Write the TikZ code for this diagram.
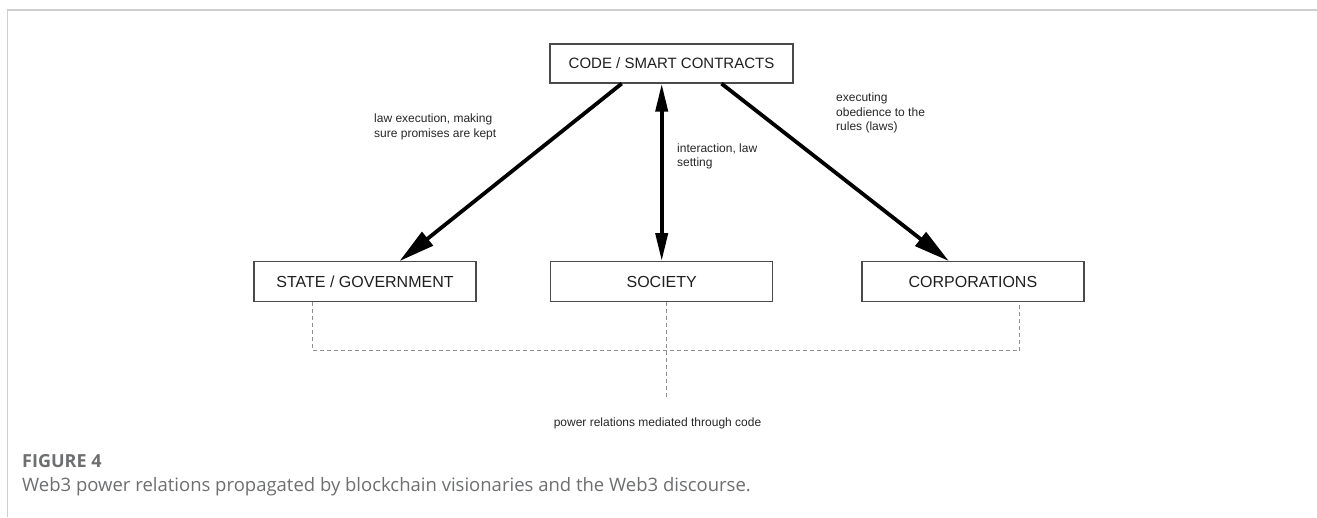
\documentclass[tikz,border=0pt]{standalone}
\usepackage{fontspec}
\setmainfont{Liberation Sans}
\newfontfamily\capfont{Open Sans}
\usepackage{xcolor}
\usetikzlibrary{arrows.meta}
\usetikzlibrary{positioning}
\definecolor{boxline}{HTML}{4A4A4A}
\definecolor{dashgrey}{HTML}{8E8E8E}
\definecolor{framegrey}{HTML}{CFCFCF}
\definecolor{capgrey}{HTML}{6D6E70}
\tikzset{
  actor box/.style={
    draw=boxline, line width=1.2pt, fill=white, inner sep=0pt,
    minimum width=222pt, minimum height=40pt,
    font=\fontsize{16}{19}\selectfont, text=black!88,
  },
  heavy edge/.style={line width=3.8pt, -{Triangle[length=36pt,width=17pt]}},
  both heavy/.style={line width=3.8pt,
    {Triangle[length=28pt,width=12pt]}-{Triangle[length=28pt,width=12pt]}},
  dash link/.style={draw=dashgrey, line width=1pt, dash pattern=on 4pt off 3pt},
  edge note/.style={anchor=base west, align=left, inner sep=0pt,
    font=\fontsize{12}{14.5}\selectfont, text=black!85},
  frame line/.style={draw=framegrey, line width=1.5pt},
  fig label/.style={anchor=base west, inner sep=0pt, text=capgrey,
    font=\capfont\fontsize{18}{20}\selectfont\bfseries},
  fig text/.style={anchor=base west, inner sep=0pt, text=capgrey,
    font=\capfont\fontsize{18.5}{22}\selectfont},
}
\begin{document}
\begin{tikzpicture}[x=1pt, y=-1pt]
  \useasboundingbox (0,0) rectangle (1317,517);

  % Frame
  \draw[frame line] (7.5,517) -- (7.5,10) -- (1317,10);

  % Define nodes
  \node[actor box, minimum width=243pt, minimum height=39pt, font=\fontsize{15}{18}\selectfont] (code) at (671.5,63.5) {CODE / SMART CONTRACTS};
  \node[actor box, below=177.5pt of code, xshift=-9.8pt] (society) {SOCIETY};
  \node[actor box, left=73.5pt of society] (state) {STATE / GOVERNMENT};
  \node[actor box, right=88pt of society] (corp) {CORPORATIONS};

  \node[edge note] (lawexec) at (374,137) {law execution, making\\sure promises are kept};
  \node[edge note] (interact) at (677,166.5) {interaction, law\\setting};
  \node[edge note] (obey) at (836,130.5) {executing\\obedience to the\\rules (laws)};
  \node[edge note, anchor=base] (power) at (657.5,426.5) {power relations mediated through code};

  % Connect nodes
  \draw[heavy edge] ([xshift=-49.8pt]code.south) -- ([xshift=34.5pt]state.north);
  \draw[both heavy] (society.north |- code.south) -- (society.north);
  \draw[heavy edge] ([xshift=50pt]code.south) -- ([xshift=-24pt]corp.north);

  % Dashed links
  \draw[dash link] ([xshift=-52.5pt]state.south) -- ++(0,48.5) -| ([xshift=47pt]corp.south);
  \draw[dash link, shorten >=19pt] ([xshift=4.3pt]society.south) -- ([xshift=4.3pt]society.south |- power.north);

  % Caption
  \node[fig label] (fig) at (22,467) {FIGURE 4};
  \node[fig text] (cap) at (22,491) {Web3 power relations propagated by blockchain visionaries and the Web3 discourse.};

\end{tikzpicture}
\end{document}
